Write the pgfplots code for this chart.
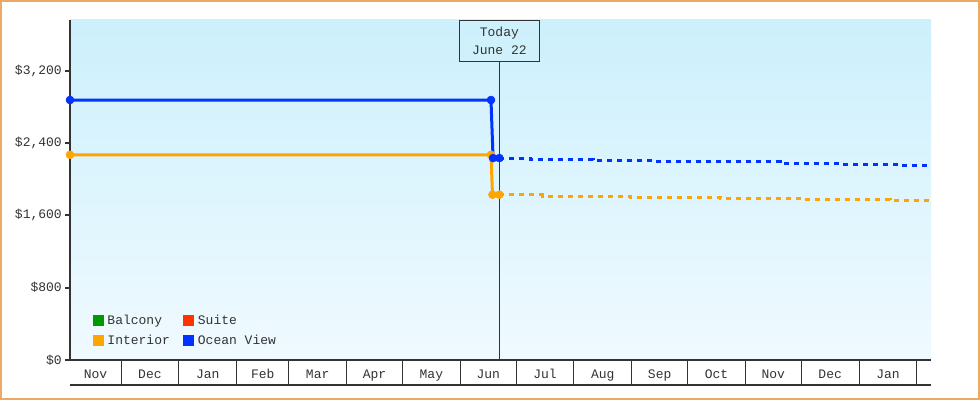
\documentclass[border=0pt]{standalone}
\usepackage{fontspec}
\setmainfont{Liberation Mono}
\usepackage{pgfplots}
\pgfplotsset{compat=1.18}
\usetikzlibrary{calc}
\definecolor{ov}{RGB}{0,51,255}
\definecolor{inter}{RGB}{255,165,0}
\definecolor{balc}{RGB}{0,153,0}
\definecolor{suite}{RGB}{255,51,0}
\definecolor{axisdark}{RGB}{51,51,51}
\definecolor{framec}{RGB}{234,170,100}
\definecolor{bgtop}{RGB}{204,240,252}
\definecolor{bgbot}{RGB}{240,250,255}
\begin{document}
\begin{tikzpicture}[font=\fontsize{13bp}{17.6bp}\selectfont]
\useasboundingbox (0,0) rectangle (980bp,400bp);
\fill[white] (0,0) rectangle (980bp,400bp);
\draw[framec, line width=2bp] (1bp,1bp) rectangle (979bp,399bp);
\begin{axis}[
 at={(70bp,40bp)}, anchor=south west,
 scale only axis, width=861bp, height=340bp,
 xmin=2.6, xmax=464.6, ymin=0, ymax=3760,
 clip=false,
 axis background/.style={top color=bgtop, bottom color=bgbot},
 axis x line*=bottom, axis y line*=left,
 x axis line style={axisdark, line width=1.2bp, -},
 y axis line style={axisdark, line width=2.5bp, -},
 ytick={0,800,1600,2400,3200},
 yticklabels={{\$0},{\$800},{\$1,600},{\$2,400},{\$3,200}},
 ytick style={axisdark, line width=2bp},
 major tick length=5bp, tick align=outside,
 yticklabel style={text=axisdark, inner sep=0pt, xshift=-3bp},
 xtick={16.3,45.5,76.5,106,135.5,166,196.5,227,257.5,288.5,319,349.5,380,410.5,441.5},
 xticklabels={Nov,Dec,Jan,Feb,Mar,Apr,May,Jun,Jul,Aug,Sep,Oct,Nov,Dec,Jan},
 xtick style={draw=none},
 xticklabel style={text=axisdark, anchor=base, yshift=-13bp},
 legend columns=2,
 legend cell align=left,
 legend image code/.code={\fill[#1] (0bp,-5.5bp) rectangle (11bp,5.5bp);},
 legend style={draw=none, fill=none, at={(rel axis cs:0.0267,0.137)}, anchor=north west,
   inner sep=0pt, outer sep=0pt, text=axisdark, row sep=6bp,
   nodes={inner sep=1.5bp},
   /tikz/every odd column/.append style={column sep=2bp},
   /tikz/every even column/.append style={column sep=12bp}},
]
\addlegendimage{fill=balc, draw=none}
\addlegendentry{Balcony}
\addlegendimage{fill=suite, draw=none}
\addlegendentry{Suite}
\addlegendimage{fill=inter, draw=none}
\addlegendentry{Interior}
\addlegendimage{fill=ov, draw=none}
\addlegendentry{Ocean View}

\draw[axisdark, line width=1bp] (axis cs:233,0) -- (axis cs:233,3308);
\node[draw=axisdark, line width=1bp, minimum width=80bp, minimum height=41bp, align=center, anchor=north, inner sep=0pt, text=axisdark] at (axis cs:233,3760) {Today\\June 22};

\pgfplotsinvokeforeach{30,61,92,120,151,181,212,242,273,304,334,365,395,426,457}{
  \draw[axisdark, line width=1bp] (axis cs:#1,0) -- ++(0bp,-25bp);
}
\draw[axisdark, line width=1.2bp] ($(rel axis cs:0,0)+(0bp,-25bp)$) -- ($(rel axis cs:1,0)+(0bp,-25bp)$);

% Interior
\addplot[inter, line width=3bp, mark=*, mark size=4bp, mark options={solid, fill=inter, line width=0.5bp}, forget plot]
 coordinates {(2.6,2269) (228.5,2269) (229.3,1828) (233,1828)};
\addplot[inter, line width=3bp, dash pattern=on 5bp off 5bp, forget plot]
 coordinates {(233,1828) (256.4,1828) (256.4,1813) (303.1,1813) (303.1,1802) (351.4,1802) (351.4,1791) (394.9,1791) (394.9,1780) (442.6,1780) (442.6,1769) (464.6,1769)};
% Ocean View
\addplot[ov, line width=3bp, mark=*, mark size=4bp, mark options={solid, fill=ov, line width=0.5bp}, forget plot]
 coordinates {(2.6,2875) (228.5,2875) (229.6,2233) (233,2233)};
\addplot[ov, line width=3bp, dash pattern=on 5bp off 5bp, forget plot]
 coordinates {(233,2233) (249.5,2233) (249.5,2222) (283.3,2222) (283.3,2211) (317.6,2211) (317.6,2192) (383.6,2192) (383.6,2177) (415.8,2177) (415.8,2166) (448,2166) (448,2155) (464.6,2155)};
\end{axis}
\end{tikzpicture}
\end{document}
